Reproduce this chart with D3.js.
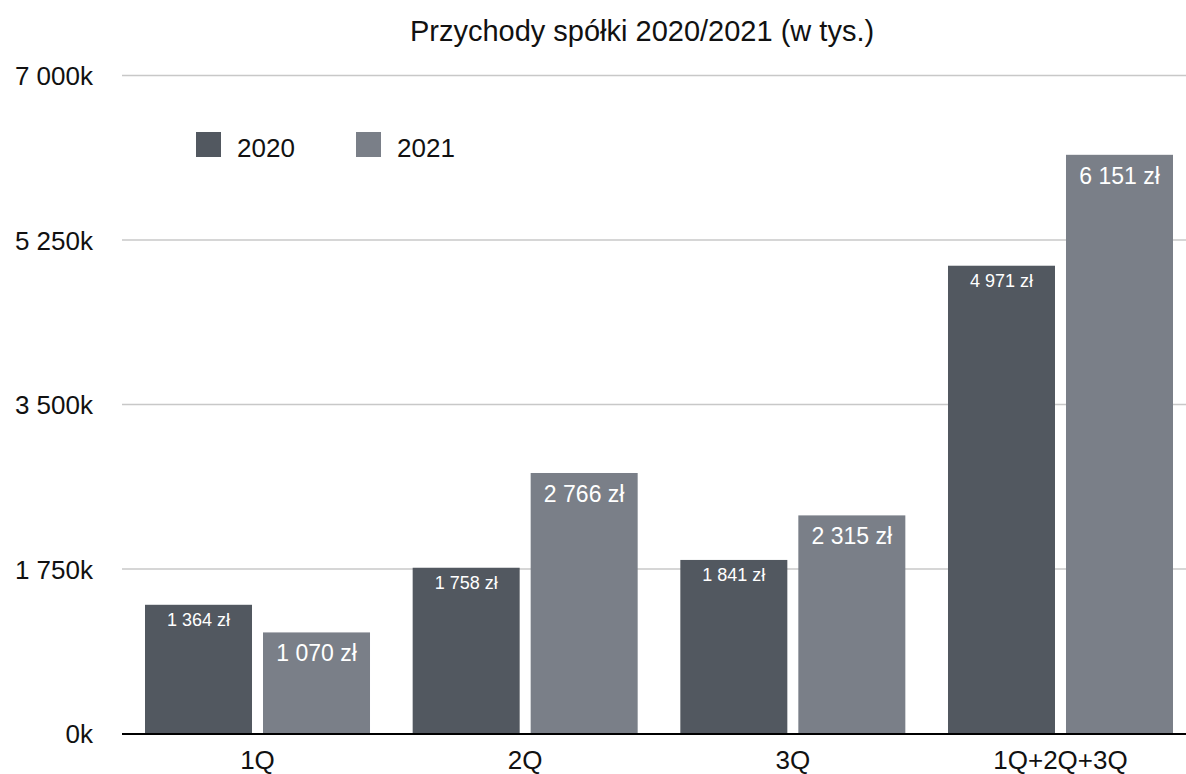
<!DOCTYPE html>
<html>
<head>
<meta charset="utf-8">
<script src="https://cdn.jsdelivr.net/npm/d3@7"></script>
<style>
  body { margin: 0; background: #fff; }
  text { font-family: "Liberation Sans", Arial, Helvetica, sans-serif; }
</style>
</head>
<body>
<div id="chart"></div>
<script>
// dane
var categories = ['1Q', '2Q', '3Q', '1Q+2Q+3Q'];
var seriesNames = ['2020', '2021'];
var values2020 = [1364, 1758, 1841, 4971];
var values2021 = [1070, 2766, 2315, 6151];
var yTicks = [0, 1750, 3500, 5250, 7000];
var colors = ['#525860', '#7a7f88'];

var width = 1186, height = 774;

var pl = d3.formatLocale({ decimal: ',', thousands: ' ', grouping: [3], currency: ['', ' zł'] });
var fmt = pl.format(',d');

var svg = d3.select('#chart').append('svg')
    .attr('width', width)
    .attr('height', height);

var y = d3.scaleLinear().domain([0, 7000]).range([733, 75]);

var x0 = d3.scaleBand()
    .domain(categories)
    .range([123.67, 1194.33])
    .paddingInner(0.1594)
    .paddingOuter(0.0797);

var x1 = d3.scaleBand()
    .domain(seriesNames)
    .range([0, x0.bandwidth()])
    .paddingInner(11 / 118);

// tytul
svg.append('text')
    .attr('x', 642)
    .attr('y', 41)
    .attr('text-anchor', 'middle')
    .attr('font-size', 29)
    .attr('fill', '#111')
    .text('Przychody spółki 2020/2021 (w tys.)');

// siatka
svg.selectAll('.grid')
    .data(yTicks.filter(function(d) { return d > 0; }))
    .enter()
    .append('line')
    .attr('x1', 122)
    .attr('x2', width)
    .attr('y1', function(d) { return y(d) + 0.5; })
    .attr('y2', function(d) { return y(d) + 0.5; })
    .attr('stroke', '#c8c8c8')
    .attr('stroke-width', 1.5);

svg.selectAll('.ytick')
    .data(yTicks)
    .enter()
    .append('text')
    .attr('x', 93)
    .attr('y', function(d) { return y(d) + 10; })
    .attr('text-anchor', 'end')
    .attr('font-size', 26)
    .attr('fill', '#111')
    .text(function(d) { return fmt(d) + 'k'; });

// slupki
var rows = categories.map(function(c, i) {
  return { cat: c, vals: [values2020[i], values2021[i]] };
});

var groups = svg.selectAll('.group')
    .data(rows)
    .enter()
    .append('g')
    .attr('transform', function(d) { return 'translate(' + x0(d.cat) + ',0)'; });

groups.selectAll('rect')
    .data(function(d) { return d.vals.map(function(v, j) { return { s: seriesNames[j], v: v, j: j }; }); })
    .enter()
    .append('rect')
    .attr('x', function(d) { return x1(d.s); })
    .attr('width', x1.bandwidth())
    .attr('y', function(d) { return y(d.v); })
    .attr('height', function(d) { return y(0) - y(d.v); })
    .attr('fill', function(d) { return colors[d.j]; });

groups.selectAll('.lbl')
    .data(function(d) { return d.vals.map(function(v, j) { return { s: seriesNames[j], v: v, j: j }; }); })
    .enter()
    .append('text')
    .attr('x', function(d) { return x1(d.s) + x1.bandwidth() / 2; })
    .attr('y', function(d) { return y(d.v) + (d.j === 0 ? 21 : 29); })
    .attr('text-anchor', 'middle')
    .attr('font-size', function(d) { return d.j === 0 ? 18 : 23; })
    .attr('fill', '#fff')
    .text(function(d) { return fmt(d.v) + ' zł'; });

// os x
svg.append('line')
    .attr('x1', 122)
    .attr('x2', width)
    .attr('y1', 734)
    .attr('y2', 734)
    .attr('stroke', '#000')
    .attr('stroke-width', 2);

svg.selectAll('.xlabel')
    .data(categories)
    .enter()
    .append('text')
    .attr('x', function(d) { return x0(d) + x0.bandwidth() / 2; })
    .attr('y', 769)
    .attr('text-anchor', 'middle')
    .attr('font-size', 26)
    .attr('fill', '#111')
    .text(function(d) { return d; });

// legenda
var legendX = [196, 356];
seriesNames.forEach(function(name, i) {
  svg.append('rect')
      .attr('x', legendX[i])
      .attr('y', 132)
      .attr('width', 25)
      .attr('height', 25)
      .attr('fill', colors[i]);
  svg.append('text')
      .attr('x', legendX[i] + 41)
      .attr('y', 157)
      .attr('font-size', 26)
      .attr('fill', '#111')
      .text(name);
});
</script>
</body>
</html>
